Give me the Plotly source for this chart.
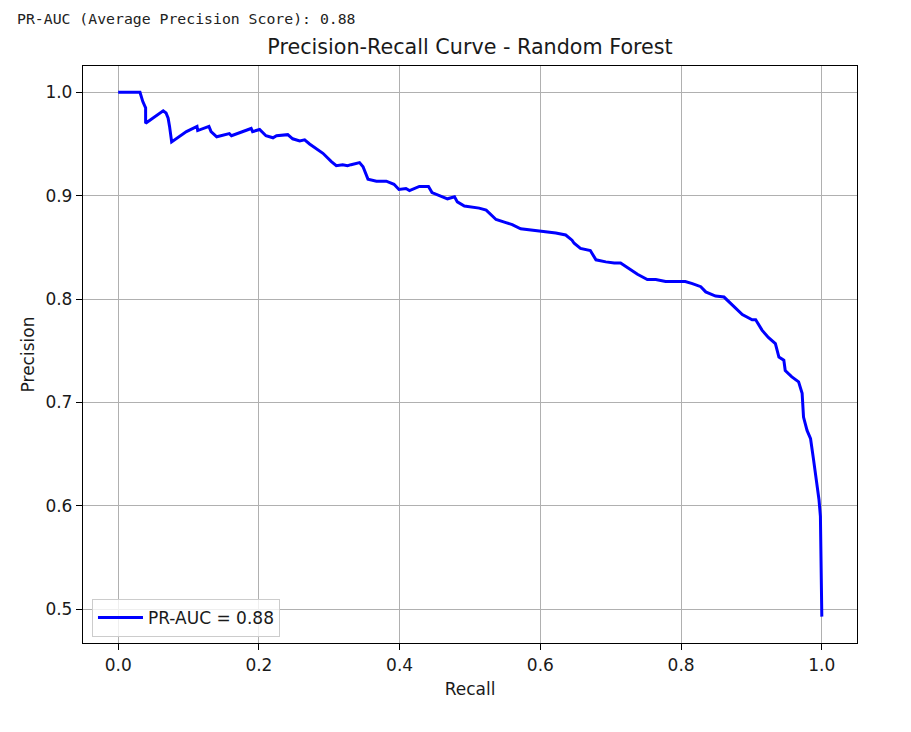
import plotly.graph_objects as go

# values
recall = [0.000, 0.031, 0.035, 0.039, 0.039, 0.064, 0.068, 0.071, 0.073, 0.076,
          0.097, 0.112, 0.113, 0.129, 0.132, 0.140, 0.158, 0.161, 0.189, 0.191,
          0.201, 0.210, 0.220, 0.225, 0.241, 0.248, 0.258, 0.265, 0.272, 0.281,
          0.291, 0.303, 0.310, 0.319, 0.326, 0.331, 0.343, 0.348, 0.355, 0.367,
          0.381, 0.392, 0.399, 0.409, 0.414, 0.428, 0.441, 0.446, 0.456, 0.468,
          0.478, 0.482, 0.492, 0.504, 0.513, 0.523, 0.530, 0.537, 0.551, 0.560,
          0.572, 0.586, 0.598, 0.612, 0.622, 0.636, 0.645, 0.648, 0.657, 0.671,
          0.679, 0.693, 0.705, 0.714, 0.723, 0.738, 0.752, 0.764, 0.778, 0.792,
          0.806, 0.816, 0.828, 0.835, 0.849, 0.861, 0.869, 0.877, 0.887, 0.901,
          0.906, 0.915, 0.924, 0.934, 0.939, 0.946, 0.948, 0.957, 0.967, 0.972,
          0.974, 0.979, 0.984, 0.988, 0.993, 0.996, 0.998, 0.999, 1.000]
precision = [1.000, 1.000, 0.991, 0.985, 0.970, 0.982, 0.980, 0.975, 0.967, 0.952,
             0.962, 0.967, 0.963, 0.967, 0.962, 0.957, 0.960, 0.958, 0.965, 0.962,
             0.964, 0.958, 0.956, 0.958, 0.959, 0.955, 0.953, 0.954, 0.950, 0.946,
             0.941, 0.933, 0.929, 0.930, 0.929, 0.930, 0.932, 0.928, 0.916, 0.914,
             0.914, 0.911, 0.906, 0.907, 0.905, 0.909, 0.909, 0.903, 0.900, 0.897,
             0.899, 0.894, 0.890, 0.889, 0.888, 0.886, 0.881, 0.877, 0.874, 0.872,
             0.868, 0.867, 0.866, 0.865, 0.864, 0.862, 0.857, 0.854, 0.849, 0.847,
             0.838, 0.836, 0.835, 0.835, 0.831, 0.824, 0.819, 0.819, 0.817, 0.817,
             0.817, 0.815, 0.812, 0.807, 0.803, 0.802, 0.797, 0.792, 0.785, 0.780,
             0.780, 0.770, 0.763, 0.757, 0.744, 0.741, 0.731, 0.725, 0.720, 0.709,
             0.686, 0.673, 0.665, 0.646, 0.622, 0.606, 0.590, 0.541, 0.493]
pr_auc = 0.88
x_ticks = [0.0, 0.2, 0.4, 0.6, 0.8, 1.0]
y_ticks = [0.5, 0.6, 0.7, 0.8, 0.9, 1.0]

FONT = "DejaVu Sans"
TXT = '#1a1a1a'

fig = go.Figure()
fig.add_trace(go.Scatter(x=recall, y=precision, mode='lines', name=f'PR-AUC = {pr_auc:.2f}',
                         line=dict(color='blue', width=3)))

# notebook print output above the figure
fig.add_annotation(text=f"PR-AUC (Average Precision Score): {pr_auc:.2f}", xref='paper', yref='paper',
                   x=-0.0879, y=1.1, xanchor='left', yanchor='top', showarrow=False,
                   font=dict(family="DejaVu Sans Mono", size=14.8, color='#222'))

axis_style = dict(showline=True, mirror=True, linecolor='black', linewidth=1.3, ticks='outside',
                  ticklen=6, tickwidth=1.3, tickcolor='black', showgrid=True, gridcolor='#b0b0b0',
                  gridwidth=1.3, zeroline=False, tickfont=dict(family=FONT, size=17, color=TXT))

fig.update_layout(
    width=903, height=724,
    margin=dict(l=75, r=54, t=58, b=89),
    paper_bgcolor='white', plot_bgcolor='white',
    title=dict(text='Precision-Recall Curve - Random Forest', x=0.5, xref='paper', xanchor='center',
               y=0.946, yanchor='middle', font=dict(family=FONT, size=20.7, color=TXT)),
    xaxis=dict(range=[-0.05, 1.05], tickvals=x_ticks, ticktext=[f'{v:.1f}' for v in x_ticks],
               title=dict(text='Recall', font=dict(family=FONT, size=17, color=TXT), standoff=9),
               **axis_style),
    yaxis=dict(range=[0.4675, 1.0254], tickvals=y_ticks, ticktext=[f'{v:.1f}' for v in y_ticks],
               title=dict(text='Precision', font=dict(family=FONT, size=17, color=TXT), standoff=6),
               **axis_style),
    legend=dict(x=0.0116, y=0.0104, xanchor='left', yanchor='bottom', bgcolor='rgba(255,255,255,0.8)',
                bordercolor='#cccccc', borderwidth=1, itemwidth=45,
                font=dict(family=FONT, size=17, color=TXT)),
    showlegend=True,
)

fig.write_html("out.html")
